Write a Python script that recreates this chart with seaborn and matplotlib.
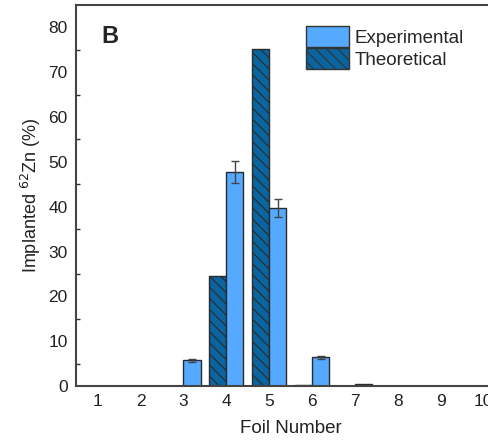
import numpy as np
import pandas as pd
import matplotlib
matplotlib.use("Agg")
import matplotlib.pyplot as plt
import seaborn as sns
from matplotlib.patches import Patch

# values
foils = [1, 2, 3, 4, 5, 6, 7, 8, 9, 10]
experimental = [0, 0, 5.7, 47.7, 39.7, 6.4, 0.4, 0, 0, 0]
experimental_err = [0, 0, 0.3, 2.5, 2.0, 0.4, 0, 0, 0, 0]
theoretical = [0, 0, 0, 24.5, 75.2, 0.2, 0, 0, 0, 0]

exp_color = "#55AAFF"
theo_color = "#0A64A0"

df = pd.DataFrame({
    "foil": foils * 2,
    "value": theoretical + experimental,
    "kind": ["Theoretical"] * len(foils) + ["Experimental"] * len(foils),
})

sns.set_style("white")
plt.rcParams["font.family"] = ["Liberation Sans", "DejaVu Sans"]
plt.rcParams["hatch.linewidth"] = 0.8
plt.rcParams["hatch.color"] = "#1a1a1a"

fig = plt.figure(figsize=(4.88, 4.41), dpi=100)
ax = fig.add_axes([0.156, 0.1247, 0.879, 0.864])

sns.barplot(data=df, x="foil", y="value", hue="kind",
            hue_order=["Theoretical", "Experimental"],
            palette=[theo_color, exp_color], width=0.8,
            edgecolor="#2a2a2a", linewidth=1.0, saturation=1,
            errorbar=None, ax=ax, legend=False)

# hatch the theoretical bars, add error bars to experimental ones
n = len(foils)
theo_patches = ax.patches[:n]
exp_patches = ax.patches[n:2 * n]
for p in theo_patches:
    p.set_hatch("\\\\\\")
xs = [p.get_x() + p.get_width() / 2 for p in exp_patches]
for x, v, e in zip(xs, experimental, experimental_err):
    if e > 0:
        ax.errorbar(x, v, yerr=e, fmt="none", ecolor="#444444",
                    elinewidth=1.0, capsize=3, capthick=1.0)

ax.set_xlim(-0.5, 9.5)
ax.set_ylim(0, 85)
ax.set_yticks(np.arange(0, 81, 10))
ax.set_yticks(np.arange(5, 85, 10), minor=True)
ax.set_xticks(range(n))
ax.set_xticklabels([str(f) for f in foils])
ax.tick_params(axis="both", which="major", direction="in", length=5,
               width=1.2, colors="#333333", labelsize=12.5, labelcolor="#222222")
ax.tick_params(axis="y", which="minor", direction="in", length=3,
               width=1.0, colors="#333333", left=True)
ax.tick_params(axis="x", which="major", pad=6)
ax.tick_params(axis="y", which="major", pad=6)

for s in ["left", "top", "bottom", "right"]:
    ax.spines[s].set_linewidth(1.5)
    ax.spines[s].set_color("#444444")

ax.set_xlabel("Foil Number", fontsize=13.5, color="#222222", labelpad=8)
ax.set_ylabel("Implanted $^{62}$Zn (%)", fontsize=13, color="#222222", labelpad=4)

ax.text(0.058, 0.948, "B", transform=ax.transAxes, fontsize=17,
        fontweight="bold", va="top", ha="left")

handles = [
    Patch(facecolor=exp_color, edgecolor="#333333", linewidth=1.0, label="Experimental"),
    Patch(facecolor=theo_color, edgecolor="#333333", linewidth=1.0, hatch="\\\\\\", label="Theoretical"),
]
ax.legend(handles=handles, loc="upper left", bbox_to_anchor=(0.536, 0.945),
          frameon=False, fontsize=13.5, handlelength=2.3, handleheight=1.35,
          handletextpad=0.3, labelspacing=0.05, borderaxespad=0, borderpad=0)

fig.savefig("out.png", dpi=100)
